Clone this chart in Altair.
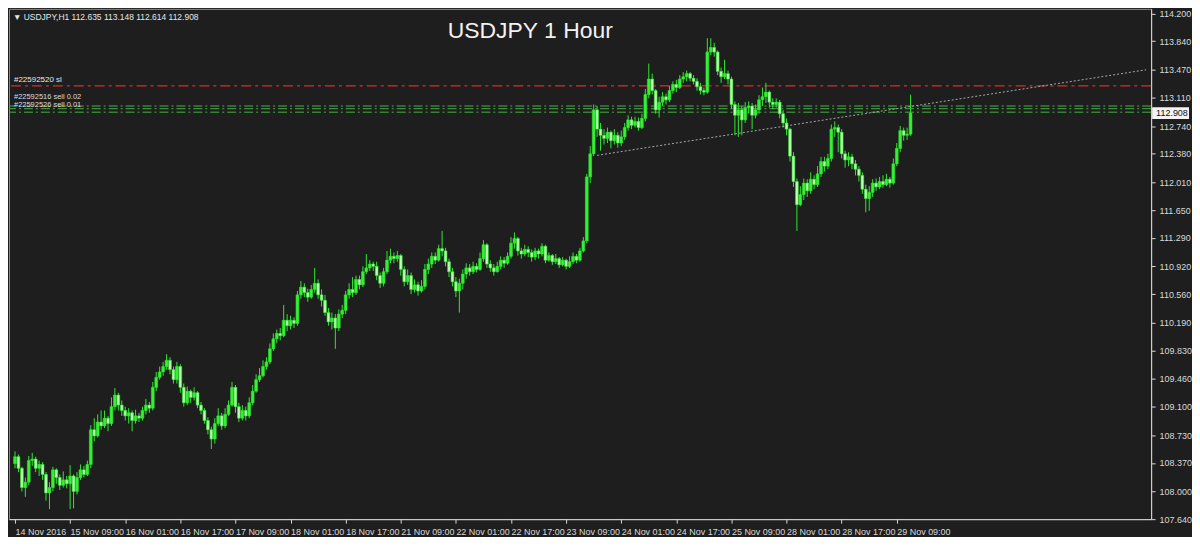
import altair as alt
import pandas as pd

# ---------------- data ----------------
first_open = 108.36
closes = [
    108.45, 108.30, 108.05, 108.12, 108.40, 108.42, 108.30, 108.35, 108.22, 107.98,
    108.05, 108.28, 108.18, 108.08, 108.15, 108.10, 108.20, 108.00, 108.18, 108.28,
    108.22, 108.35, 108.80, 108.72, 108.90, 108.85, 108.95, 108.88, 109.10, 109.25,
    109.12, 109.05, 108.98, 109.02, 108.92, 108.98, 108.95, 109.05, 109.12, 109.08,
    109.35, 109.48, 109.55, 109.62, 109.70, 109.58, 109.45, 109.62, 109.35, 109.15,
    109.30, 109.22, 109.28, 109.12, 109.05, 108.92, 108.80, 108.68, 108.88, 108.98,
    108.85, 109.00, 109.12, 109.35, 109.10, 108.95, 109.05, 108.98, 109.15, 109.30,
    109.45, 109.50, 109.62, 109.68, 109.85, 109.98, 110.05, 110.02, 110.22, 110.15,
    110.22, 110.18, 110.55, 110.65, 110.58, 110.52, 110.62, 110.70, 110.55, 110.48,
    110.32, 110.20, 110.25, 110.12, 110.30, 110.35, 110.55, 110.62, 110.58, 110.75,
    110.68, 110.85, 110.90, 110.95, 110.92, 110.80, 110.70, 110.85, 111.00, 111.05,
    111.02, 111.06, 110.88, 110.72, 110.80, 110.62, 110.68, 110.60, 110.66, 110.88,
    110.95, 111.05, 111.00, 111.15, 111.12, 110.98, 110.85, 110.72, 110.60, 110.70,
    110.82, 110.90, 110.85, 110.92, 110.88, 111.02, 111.20, 110.95, 110.90, 110.85,
    110.92, 111.00, 110.96, 111.05, 111.22, 111.28, 111.12, 111.08, 111.14, 111.10,
    111.04, 111.12, 111.08, 111.18, 111.00, 111.06, 110.98, 111.02, 110.94, 111.00,
    110.92, 110.98, 111.05, 111.00, 111.12, 111.25, 112.08, 112.38, 112.95, 112.70,
    112.62, 112.58, 112.66, 112.55, 112.62, 112.52, 112.60, 112.72, 112.82, 112.75,
    112.80, 112.72, 112.84, 113.15, 113.35, 113.20, 112.95, 113.05, 113.12, 113.08,
    113.20, 113.28, 113.24, 113.35, 113.38, 113.42, 113.36, 113.32, 113.25, 113.20,
    113.18, 113.70, 113.76, 113.70, 113.45, 113.38, 113.42, 113.35, 113.02, 112.88,
    112.95, 112.82, 112.98, 113.00, 112.88, 112.95, 113.08, 113.12, 113.18, 113.05,
    113.02, 113.05, 112.90, 112.78, 112.70, 112.35, 112.02, 111.72, 111.85, 112.00,
    111.90, 112.05, 111.98, 112.12, 112.28, 112.22, 112.32, 112.70, 112.72, 112.66,
    112.38, 112.30, 112.34, 112.25, 112.18, 112.10, 111.92, 111.80, 111.88, 112.00,
    111.95, 112.02, 111.98, 112.05, 112.00, 112.25, 112.45, 112.68, 112.62, 112.635,
    112.908,
]
highs = [
    108.52, 108.48, 108.32, 108.18, 108.46, 108.50, 108.45, 108.40, 108.38, 108.25,
    108.12, 108.32, 108.30, 108.22, 108.26, 108.20, 108.34, 108.22, 108.25, 108.35,
    108.33, 108.40, 108.86, 108.95, 109.00, 109.05, 109.05, 108.98, 109.22, 109.34,
    109.28, 109.18, 109.10, 109.08, 109.05, 109.06, 109.02, 109.10, 109.20, 109.16,
    109.42, 109.55, 109.62, 109.68, 109.78, 109.74, 109.62, 109.68, 109.65, 109.40,
    109.36, 109.32, 109.35, 109.30, 109.16, 109.08, 108.96, 108.84, 108.95, 109.08,
    109.02, 109.08, 109.18, 109.42, 109.38, 109.15, 109.12, 109.10, 109.22, 109.38,
    109.52, 109.60, 109.70, 109.74, 109.92, 110.05, 110.10, 110.12, 110.42, 110.30,
    110.28, 110.26, 110.60, 110.73, 110.70, 110.63, 110.68, 110.90, 110.75, 110.62,
    110.55, 110.38, 110.32, 110.30, 110.36, 110.42, 110.60, 110.70, 110.78, 110.80,
    110.80, 110.92, 111.08, 111.00, 110.98, 110.98, 110.84, 110.90, 111.12, 111.15,
    111.10, 111.12, 111.08, 110.92, 110.88, 110.84, 110.75, 110.72, 110.74, 110.95,
    111.02, 111.10, 111.10, 111.20, 111.38, 111.16, 111.02, 110.90, 110.78, 110.76,
    110.88, 110.96, 110.95, 110.98, 110.96, 111.10, 111.26, 111.22, 111.00, 110.95,
    110.98, 111.05, 111.04, 111.10, 111.30, 111.36, 111.30, 111.16, 111.20, 111.18,
    111.14, 111.16, 111.15, 111.22, 111.20, 111.10, 111.08, 111.08, 111.04, 111.04,
    111.02, 111.05, 111.10, 111.08, 111.16, 111.30, 112.12, 112.48, 113.02, 113.00,
    112.78, 112.70, 112.72, 112.68, 112.70, 112.66, 112.68, 112.78, 112.88, 112.86,
    112.86, 112.85, 112.90, 113.22, 113.55, 113.42, 113.22, 113.12, 113.18, 113.16,
    113.26, 113.32, 113.34, 113.40, 113.44, 113.46, 113.44, 113.40, 113.36, 113.30,
    113.24, 113.88, 113.88, 113.82, 113.72, 113.50, 113.60, 113.46, 113.38, 113.06,
    113.04, 113.00, 113.05, 113.06, 113.04, 113.02, 113.14, 113.24, 113.30, 113.20,
    113.10, 113.10, 113.08, 112.95, 112.84, 112.72, 112.40, 112.06, 111.96, 112.06,
    112.05, 112.14, 112.10, 112.22, 112.34, 112.34, 112.38, 112.76, 112.80, 112.76,
    112.70, 112.42, 112.40, 112.38, 112.30, 112.22, 112.14, 111.98, 111.96, 112.05,
    112.06, 112.08, 112.10, 112.12, 112.08, 112.32, 112.52, 112.74, 112.72, 112.72,
    113.148,
]
lows = [
    108.30, 108.25, 108.00, 107.93, 108.08, 108.33, 108.25, 108.20, 108.15, 107.88,
    107.77, 108.00, 108.10, 108.02, 108.05, 108.04, 107.77, 107.78, 107.96, 108.15,
    108.18, 108.20, 108.30, 108.65, 108.70, 108.80, 108.82, 108.78, 108.85, 109.05,
    109.05, 108.98, 108.92, 108.88, 108.78, 108.88, 108.90, 108.92, 109.00, 109.02,
    109.05, 109.30, 109.45, 109.50, 109.58, 109.52, 109.40, 109.40, 109.28, 109.10,
    109.12, 109.15, 109.18, 109.08, 109.00, 108.88, 108.74, 108.55, 108.62, 108.85,
    108.80, 108.82, 108.98, 109.10, 109.02, 108.90, 108.92, 108.92, 108.95, 109.12,
    109.28, 109.42, 109.48, 109.58, 109.65, 109.82, 109.92, 109.96, 110.00, 110.08,
    110.10, 110.12, 110.15, 110.50, 110.52, 110.46, 110.50, 110.58, 110.50, 110.40,
    110.28, 110.15, 110.10, 109.85, 110.08, 110.25, 110.30, 110.50, 110.52, 110.55,
    110.62, 110.65, 110.82, 110.86, 110.86, 110.74, 110.64, 110.66, 110.82, 110.96,
    110.96, 110.98, 110.80, 110.66, 110.68, 110.56, 110.58, 110.54, 110.58, 110.62,
    110.82, 110.90, 110.95, 110.98, 111.05, 110.92, 110.78, 110.66, 110.52, 110.32,
    110.62, 110.76, 110.80, 110.82, 110.84, 110.86, 110.98, 110.90, 110.85, 110.80,
    110.84, 110.88, 110.90, 110.94, 111.02, 111.15, 111.06, 111.02, 111.05, 111.04,
    110.98, 111.00, 111.02, 111.05, 110.96, 110.98, 110.94, 110.95, 110.90, 110.92,
    110.88, 110.90, 110.95, 110.96, 110.98, 111.10, 111.22, 112.00, 112.35, 112.60,
    112.42, 112.50, 112.52, 112.45, 112.50, 112.46, 112.48, 112.56, 112.68, 112.70,
    112.72, 112.68, 112.70, 112.80, 113.10, 113.15, 112.90, 112.85, 113.00, 113.02,
    113.05, 113.16, 113.18, 113.22, 113.30, 113.32, 113.32, 113.28, 113.20, 113.15,
    113.14, 113.16, 113.66, 113.64, 113.40, 113.30, 113.35, 113.28, 112.96, 112.62,
    112.60, 112.62, 112.78, 112.90, 112.70, 112.84, 112.90, 113.00, 113.04, 112.98,
    112.96, 112.98, 112.84, 112.72, 112.62, 112.28, 111.95, 111.38, 111.70, 111.78,
    111.82, 111.86, 111.92, 111.95, 112.08, 112.15, 112.18, 112.28, 112.60, 112.40,
    112.32, 112.20, 112.22, 112.18, 112.10, 112.02, 111.86, 111.62, 111.64, 111.82,
    111.90, 111.92, 111.94, 111.96, 111.94, 111.98, 112.22, 112.40, 112.55, 112.56,
    112.614,
]

x_tick_bars = [0, 16, 32, 48, 64, 80, 96, 112, 128, 144, 160, 176, 192, 208, 224, 240, 256]
x_tick_labels = ["14 Nov 2016", "15 Nov 09:00", "16 Nov 01:00", "16 Nov 17:00", "17 Nov 09:00",
                 "18 Nov 01:00", "18 Nov 17:00", "21 Nov 09:00", "22 Nov 01:00", "22 Nov 17:00",
                 "23 Nov 09:00", "24 Nov 01:00", "24 Nov 17:00", "25 Nov 09:00", "28 Nov 01:00",
                 "28 Nov 17:00", "29 Nov 09:00"]
y_ticks = [114.200, 113.840, 113.470, 113.110, 112.740, 112.380, 112.010, 111.650, 111.290,
           110.920, 110.560, 110.190, 109.830, 109.460, 109.100, 108.730, 108.370, 108.000, 107.640]

last_price = 112.908
sl_level = 113.26
sl_label = "#22592520 sl"
sell_levels = [113.00, 112.965, 112.92]
sell_labels = ["#22592516 sell 0.02", "#22592526 sell 0.01"]
sell_label_levels = [113.065, 112.955]
trend_bars = [169, 328.4]
trend_prices = [112.36, 113.47]
title_text = "USDJPY 1 Hour"
header_text = "USDJPY,H1  112.635 113.148 112.614 112.908"

# ---------------- build tables ----------------
n = len(closes)
opens = [first_open] + closes[:-1]
df = pd.DataFrame({"i": list(range(n)), "open": opens, "close": closes,
                   "high": highs, "low": lows})
df["high"] = df[["high", "open", "close"]].max(axis=1)
df["low"] = df[["low", "open", "close"]].min(axis=1)
df["top"] = df[["open", "close"]].max(axis=1)
df["bot"] = df[["open", "close"]].min(axis=1)
df["dir"] = ["up" if c >= o else "down" for o, c in zip(opens, closes)]

W, H = 1146, 512
BG = "#1e1e1e"
GREEN = "#2ee82e"
FONT = "Liberation Sans"
AXC = "#d9d9d9"

xs = alt.Scale(domain=[-0.3, 328.4], nice=False, zero=False)
ys = alt.Scale(domain=[107.64, 114.26], nice=False, zero=False)

label_expr = "[" + ",".join("'%s'" % s for s in x_tick_labels) + "][round(datum.value/16)]"

x_axis = alt.Axis(values=x_tick_bars, labelExpr=label_expr, labelAlign="left", title=None)
y_axis = alt.Axis(orient="right", values=y_ticks, format=".3f", title=None)

base = alt.Chart(df)
wicks = base.mark_rule(color=GREEN, strokeWidth=1).encode(
    x=alt.X("i:Q", scale=xs, axis=x_axis),
    y=alt.Y("low:Q", scale=ys, axis=y_axis),
    y2="high:Q",
)
bodies = base.mark_bar(size=2.8, stroke=GREEN, strokeWidth=0.6).encode(
    x=alt.X("i:Q", scale=xs, axis=x_axis),
    y=alt.Y("bot:Q", scale=ys, axis=y_axis),
    y2="top:Q",
    color=alt.Color("dir:N", scale=alt.Scale(domain=["up", "down"], range=["#35f035", "#b8ffb0"]),
                    legend=None),
)

sl_df = pd.DataFrame({"p": [sl_level], "label": [sl_label]})
sl_line = alt.Chart(sl_df).mark_rule(color="#e02a2a", strokeWidth=1.3, strokeDash=[10, 4, 3, 4]).encode(
    y=alt.Y("p:Q", scale=ys, axis=y_axis))
sl_text = alt.Chart(sl_df).mark_text(align="left", baseline="bottom", dy=-2, font=FONT, fontSize=8,
                                     color="#e8e8e8").encode(
    x=alt.value(5), y=alt.Y("p:Q", scale=ys, axis=y_axis), text="label:N")

sell_df = pd.DataFrame({"p": sell_levels})
sell_lines = alt.Chart(sell_df).mark_rule(color="#46b046", strokeWidth=1, strokeDash=[9, 3, 2, 3]).encode(
    y=alt.Y("p:Q", scale=ys, axis=y_axis))
sell_lab_df = pd.DataFrame({"p": sell_label_levels, "label": sell_labels})
sell_text = alt.Chart(sell_lab_df).mark_text(align="left", baseline="bottom", font=FONT, fontSize=7.5,
                                             color="#dcdcdc").encode(
    x=alt.value(5), y=alt.Y("p:Q", scale=ys, axis=y_axis), text="label:N")

trend_df = pd.DataFrame({"i": trend_bars, "p": trend_prices})
trend = alt.Chart(trend_df).mark_line(color="#a8a8a8", strokeWidth=1, strokeDash=[2, 2]).encode(
    x=alt.X("i:Q", scale=xs, axis=x_axis), y=alt.Y("p:Q", scale=ys, axis=y_axis))

title = alt.Chart(pd.DataFrame({"t": [title_text]})).mark_text(
    font=FONT, fontSize=23, color="#f2f2f2", align="center", baseline="middle").encode(
    x=alt.value(523), y=alt.value(22), text="t:N")
header = alt.Chart(pd.DataFrame({"t": ["\u25bc  " + header_text]})).mark_text(
    font=FONT, fontSize=8.5, color="#e6e6e6", align="left", baseline="middle").encode(
    x=alt.value(4), y=alt.value(8), text="t:N")

lp_df = pd.DataFrame({"p": [last_price], "lo": [last_price - 0.075], "hi": [last_price + 0.075],
                      "t": ["%.3f" % last_price]})
lp_box = alt.Chart(lp_df).mark_rect(color="#f4f4f4").encode(
    x=alt.value(W + 1), x2=alt.value(W + 38),
    y=alt.Y("lo:Q", scale=ys, axis=y_axis), y2="hi:Q")
lp_text = alt.Chart(lp_df).mark_text(align="left", baseline="middle", font=FONT, fontSize=9,
                                     color="#111111").encode(
    x=alt.value(W + 5), y=alt.Y("p:Q", scale=ys, axis=y_axis), text="t:N")

chart = alt.layer(
    sl_line, sell_lines, trend, wicks, bodies, sl_text, sell_text, title, header, lp_box, lp_text
).properties(
    width=W, height=H, padding=0
).configure(background=BG).configure_view(
    fill=BG, stroke="#8a8a8a", strokeWidth=1
).configure_axis(
    labelOverlap=False, labelFlush=False, grid=False, tickSize=4, tickColor=AXC, domainColor=AXC,
    labelColor=AXC, labelFont=FONT, labelFontSize=9, labelPadding=4
)

chart.save("out.html", embed_options={"renderer": "svg", "actions": False})
